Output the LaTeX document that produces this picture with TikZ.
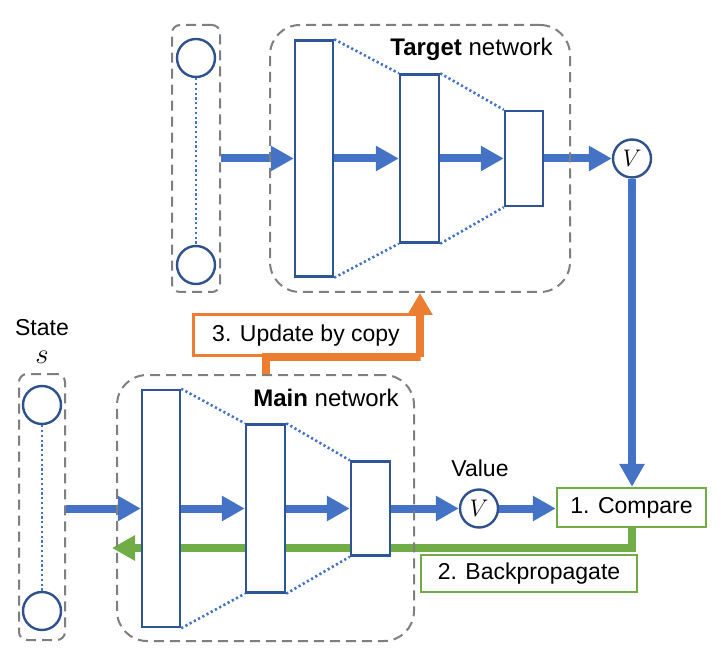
\documentclass[tikz,border=0pt]{standalone}
\usepackage{fontspec}
\setmainfont{Liberation Sans}
\usetikzlibrary{arrows.meta,backgrounds}
\definecolor{arrowblue}{HTML}{4472C4}
\definecolor{layerblue}{HTML}{2F5597}
\definecolor{unitblue}{HTML}{2F528F}
\definecolor{groupgray}{HTML}{7F7F7F}
\definecolor{cmpgreen}{HTML}{70AD47}
\definecolor{copyorange}{HTML}{ED7D31}
\begin{document}
\begin{tikzpicture}[x=0.5pt, y=-0.5pt, line join=miter, every node/.style = {font=\fontsize{11.5}{14}\selectfont}]
	\tikzstyle{layer} = [draw=layerblue, fill=white, line width=1.2pt, inner sep=0pt]
	\tikzstyle{group} = [draw=groupgray, line width=1pt, dash pattern=on 5pt off 3pt, inner sep=0pt]
	\tikzstyle{unit} = [circle, draw=unitblue, fill=white, line width=1.2pt, minimum size=19pt, inner sep=0pt, font=\fontsize{13}{14}\selectfont]
	\tikzstyle{dots} = [draw=arrowblue, line width=1.3pt, dash pattern=on 1.1pt off 1.3pt]
	\tikzstyle{flow} = [draw=arrowblue, line width=4pt, -{Triangle[length=11.5pt, width=12pt]}]
	\tikzstyle{backflow} = [draw=cmpgreen, line width=4pt, -{Triangle[length=11.5pt, width=12pt]}]
	\tikzstyle{copyflow} = [draw=copyorange, line width=4pt, -{Triangle[length=11pt, width=12pt]}]
	\tikzstyle{stepbox} = [draw, fill=white, line width=1.2pt, inner sep=0pt]
	\tikzstyle{title} = [font=\fontsize{12}{14}\selectfont]
	\useasboundingbox (0,0) rectangle (721,667);
	% target network
	\node[group, minimum width=24pt, minimum height=133.5pt, rounded corners=4pt] (tin) at (196,158.5) {};
	\node[group, minimum width=150pt, minimum height=133.5pt, rounded corners=15pt] (tgt) at (420,158.5) {};
	\node[unit] (tu1) at (196,58) {};
	\node[unit] (tu2) at (196,265) {};
	\node[layer, minimum width=19pt, minimum height=118pt] (t1) at (314,158.5) {};
	\node[layer, minimum width=19.5pt, minimum height=84pt] (t2) at (419.5,158.5) {};
	\node[layer, minimum width=19pt, minimum height=47.5pt] (t3) at (524,158.5) {};
	\node[unit] (vt) at (632,158.5) {$V$};
	\node[title] (tgtlabel) at (471.5,49) {\textbf{Target} network};
	% main network
	\node[group, minimum width=23pt, minimum height=133pt, rounded corners=4pt] (min) at (42,507) {};
	\node[group, minimum width=148.5pt, minimum height=133pt, rounded corners=15pt] (main) at (265.5,508) {};
	\node[unit] (mu1) at (42,405) {};
	\node[unit] (mu2) at (42,611) {};
	\node[layer, minimum width=19pt, minimum height=118.5pt] (m1) at (161,508.5) {};
	\node[layer, minimum width=19.5pt, minimum height=84pt] (m2) at (265.5,508.5) {};
	\node[layer, minimum width=19.5pt, minimum height=47pt] (m3) at (370.5,508.5) {};
	\node[unit] (vm) at (479,508.5) {$V$};
	\node[title] (mainlabel) at (326,398) {\textbf{Main} network};
	\node (state) at (42,328) {State};
	\node[font=\fontsize{14}{14}\selectfont] (svar) at (42,357) {$s$};
	\node (value) at (480,468) {Value};
	% steps
	\node[stepbox, draw=cmpgreen, minimum width=74.5pt, minimum height=19.5pt] (cmp) at (631.5,507.5) {1. Compare};
	\node[stepbox, draw=cmpgreen, minimum width=108pt, minimum height=18.5pt] (bp) at (529,573.5) {2. Backpropagate};
	\node[stepbox, draw=copyorange, line width=1.5pt, minimum width=113pt, minimum height=20.5pt] (upd) at (306,335.5) {3. Update by copy};
	\coordinate (bpend) at (112,548);
	% dotted links
	\draw[dots] (tu1) -- (tu2);
	\draw[dots] (mu1) -- (mu2);
	\draw[dots] (t1.north east) -- (t2.north west);
	\draw[dots] (t1.south east) -- (t2.south west);
	\draw[dots] (t2.north east) -- (t3.north west);
	\draw[dots] (t2.south east) -- (t3.south west);
	\draw[dots] (m1.north east) -- (m2.north west);
	\draw[dots] (m1.south east) -- (m2.south west);
	\draw[dots] (m2.north east) -- (m3.north west);
	\draw[dots] (m2.south east) -- (m3.south west);
	\begin{pgfonlayer}{background}
		\draw[backflow] (cmp.south) |- (bpend);
		\draw[flow] (tin.east |- t1.west) -- (t1.west);
		\draw[flow] (t1.east) -- (t2.west);
		\draw[flow] (t2.east) -- (t3.west);
		\draw[flow] (t3.east) -- (vt.west);
		\draw[flow] (vt.south) -- (vt.south |- cmp.north);
		\draw[flow] (min.east |- m1.west) -- (m1.west);
		\draw[flow] (m1.east) -- (m2.west);
		\draw[flow] (m2.east) -- (m3.west);
		\draw[flow] (m3.east) -- (vm.west);
		\draw[flow] (vm.east) -- (vm.east -| cmp.west);
	\end{pgfonlayer}
	\draw[copyflow] (main.north) |- (upd.south east) -| (tgt.south);
\end{tikzpicture}
\end{document}
